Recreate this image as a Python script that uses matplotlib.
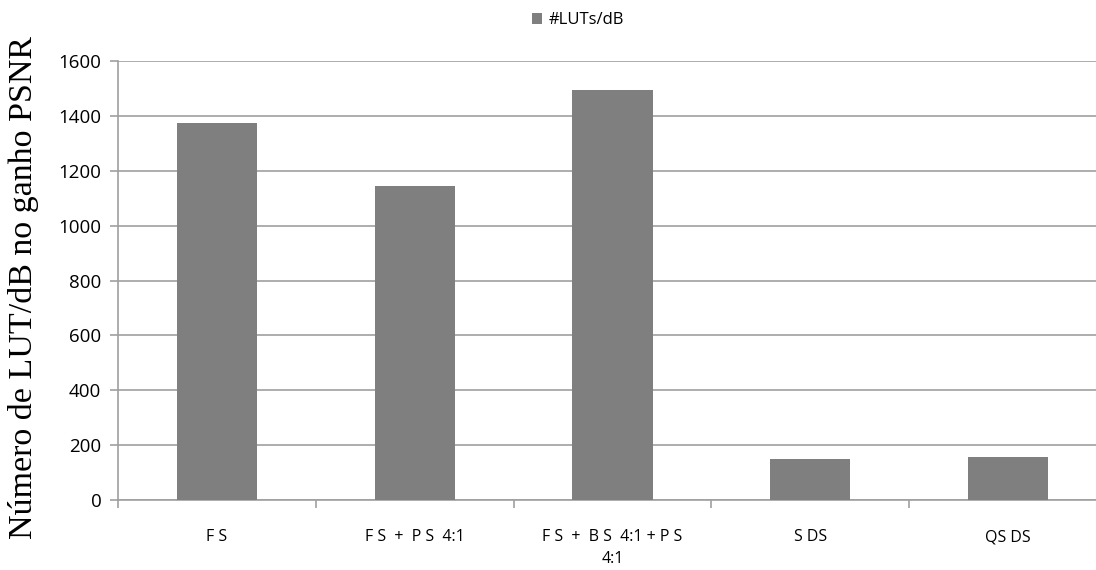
import matplotlib
matplotlib.use('Agg')
import matplotlib.pyplot as plt
from matplotlib.patches import Patch

# spacing in the labels follows the wide letter spacing of the source
categories = ['F S', 'F S  +  P S  4:1', 'F S  +  B S  4:1 + P S\n4:1', 'S DS', 'QS DS']
luts_per_db = [1373, 1145, 1494, 148, 157]
series_name = '#LUTs/dB'

bar_color = '#7f7f7f'
grid_color = '#a0a0a0'

fig = plt.figure(figsize=(10.96, 5.70), dpi=100)
# plot area runs slightly past the right edge, like the source image
ax = fig.add_axes([118 / 1096, 70 / 570, 989 / 1096, 439 / 570])

x = list(range(len(categories)))
ax.bar(x, luts_per_db, width=0.405, color=bar_color, zorder=3)

ax.set_xlim(-0.5, len(categories) - 0.5)
ax.set_ylim(0, 1600)
ax.set_yticks(range(0, 1601, 200))
ax.yaxis.grid(True, color=grid_color, linewidth=1.2, zorder=0)

ax.set_xticks(x)
ax.set_xticklabels(categories, fontsize=11.5, family='Open Sans', linespacing=1.5)
ax.set_xticks([i + 0.5 for i in range(-1, len(categories))], minor=True)
ax.tick_params(axis='x', which='major', length=0, pad=21)
ax.tick_params(axis='x', which='minor', length=6, color=grid_color, width=1.2)
ax.tick_params(axis='y', length=6, color=grid_color, width=1.2, labelsize=13.5, pad=6)
for lab in ax.get_yticklabels():
    lab.set_family('Open Sans')

for side in ['top', 'right']:
    ax.spines[side].set_visible(False)
for side in ['left', 'bottom']:
    ax.spines[side].set_color(grid_color)
    ax.spines[side].set_linewidth(1.2)

ax.set_ylabel('Número de LUT/dB no ganho PSNR', family='Liberation Serif', fontsize=24.5)
ax.yaxis.set_label_coords(-0.08, 0.483)

handle = Patch(facecolor=bar_color, edgecolor='none')
fig.legend([handle], [series_name], loc='center', bbox_to_anchor=(578 / 1096, 1 - 20 / 570),
           frameon=False, prop={'family': 'Open Sans', 'size': 12},
           handlelength=0.65, handleheight=0.65, handletextpad=0.4)

fig.savefig('out.png', dpi=100)
